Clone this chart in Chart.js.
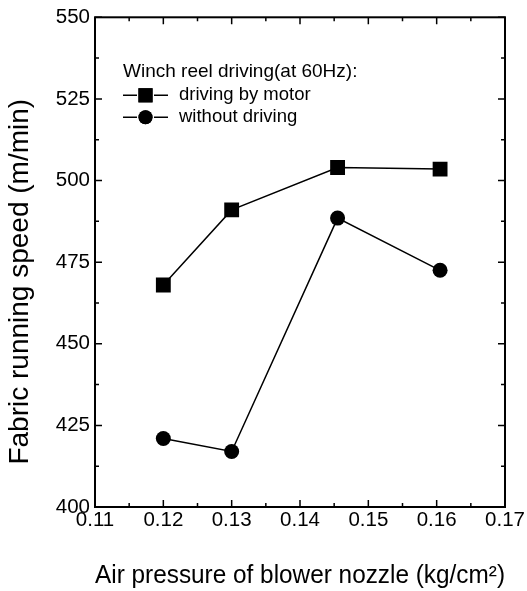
<!DOCTYPE html>
<html>
<head>
<meta charset="utf-8">
<script src="https://cdn.jsdelivr.net/npm/chart.js@4.4.1/dist/chart.umd.min.js"></script>
<style>
  html, body { margin: 0; padding: 0; background: #fff; }
  #wrap { width: 527px; height: 591px; }
</style>
</head>
<body>
<div id="wrap"><canvas id="myChart" width="527" height="591"></canvas></div>
<script>
// data
var pressure = [0.12, 0.13, 0.1455, 0.1605];
var motorSpeed = [468, 491, 504, 503.5];
var freeSpeed = [421, 417, 488.5, 472.5];
var legendTitle = 'Winch reel driving(at 60Hz):';
var seriesNames = ['driving by motor', 'without driving'];
var xTitle = 'Air pressure of blower nozzle (kg/cm\u00B2)';
var yTitle = 'Fabric running speed (m/min)';

var FONT = '"Liberation Sans", Arial, sans-serif';

function toXY(xs, ys) {
    return xs.map(function (x, i) { return { x: x, y: ys[i] }; });
}

// frame, inward ticks, y title and the legend inside the plot
var framePlugin = {
    id: 'frame',
    afterDraw: function (chart) {
        var c = chart.ctx, a = chart.chartArea;
        var xs = chart.scales.x, ys = chart.scales.y;
        c.save();
        c.strokeStyle = '#000';
        c.lineWidth = 2;
        c.strokeRect(a.left, a.top, a.right - a.left, a.bottom - a.top);
        c.lineWidth = 1.5;
        c.beginPath();
        for (var v = 0.11; v <= 0.1701; v += 0.005) {
            var px = xs.getPixelForValue(v);
            var major = Math.abs(Math.round(v * 100) - v * 100) < 0.01;
            var len = major ? 7 : 4;
            c.moveTo(px, a.bottom); c.lineTo(px, a.bottom - len);
            c.moveTo(px, a.top); c.lineTo(px, a.top + len);
        }
        for (var w = 400; w <= 550; w += 12.5) {
            var py = ys.getPixelForValue(w);
            var len2 = (w % 25 === 0) ? 7 : 4;
            c.moveTo(a.left, py); c.lineTo(a.left + len2, py);
            c.moveTo(a.right, py); c.lineTo(a.right - len2, py);
        }
        c.stroke();

        // y axis title (sits a bit below the plot centre in the original)
        c.save();
        c.translate(20, ys.getPixelForValue(469));
        c.rotate(-Math.PI / 2);
        c.fillStyle = '#000';
        c.textAlign = 'center';
        c.textBaseline = 'middle';
        c.font = '28px ' + FONT;
        c.fillText(yTitle, 0, 0);
        c.restore();

        // legend
        var lx = a.left + 28, ly = a.top + 54;
        c.fillStyle = '#000';
        c.textBaseline = 'middle';
        c.font = '19px ' + FONT;
        c.fillText(legendTitle, lx, ly);
        chart.data.datasets.forEach(function (ds, i) {
            var y = ly + 24 + i * 22;
            c.lineWidth = 1.5;
            c.beginPath();
            c.moveTo(lx, y); c.lineTo(lx + 14, y);
            c.moveTo(lx + 31, y); c.lineTo(lx + 45, y);
            c.stroke();
            Chart.helpers.drawPoint(c, { pointStyle: ds.pointStyle, radius: ds.pointStyle === 'rect' ? 10 : 7, borderWidth: 0 }, lx + 22.5, y);
            c.fillStyle = '#000';
            c.fill();
            c.font = '18.5px ' + FONT;
            c.fillText(ds.label, lx + 56, y);
        });
        c.restore();
    }
};

var ctx = document.getElementById('myChart').getContext('2d');

var myChart = new Chart(ctx, {
    type: 'line',
    data: {
        datasets: [{
            label: seriesNames[0],
            data: toXY(pressure, motorSpeed),
            borderColor: '#000',
            backgroundColor: '#000',
            borderWidth: 1.5,
            pointStyle: 'rect',
            pointRadius: 10.5,
            pointBorderWidth: 0
        }, {
            label: seriesNames[1],
            data: toXY(pressure, freeSpeed),
            borderColor: '#000',
            backgroundColor: '#000',
            borderWidth: 1.5,
            pointStyle: 'circle',
            pointRadius: 7.5,
            pointBorderWidth: 0
        }]
    },
    options: {
        responsive: false,
        animation: false,
        layout: { padding: { top: 6, right: 22, left: 0, bottom: 0 } },
        plugins: {
            legend: { display: false },
            tooltip: { enabled: false }
        },
        scales: {
            x: {
                type: 'linear',
                min: 0.11,
                max: 0.17,
                grid: { display: false, drawTicks: false },
                border: { display: false },
                ticks: {
                    stepSize: 0.01,
                    color: '#000',
                    padding: 1,
                    font: { family: FONT, size: 20.5 },
                    callback: function (v) { return v.toFixed(2); }
                },
                title: {
                    display: true,
                    text: xTitle,
                    color: '#000',
                    font: { family: FONT, size: 26 },
                    padding: { top: 10, bottom: 0 }
                },
                afterFit: function (s) { s.height = 84; }
            },
            y: {
                min: 400,
                max: 550,
                grid: { display: false, drawTicks: false },
                border: { display: false },
                ticks: {
                    stepSize: 25,
                    color: '#000',
                    padding: 5,
                    font: { family: FONT, size: 20.5 },
                    callback: function (v) { return v; }
                },
                afterFit: function (s) { s.width = 95; }
            }
        }
    },
    plugins: [framePlugin]
});
</script>
</body>
</html>
